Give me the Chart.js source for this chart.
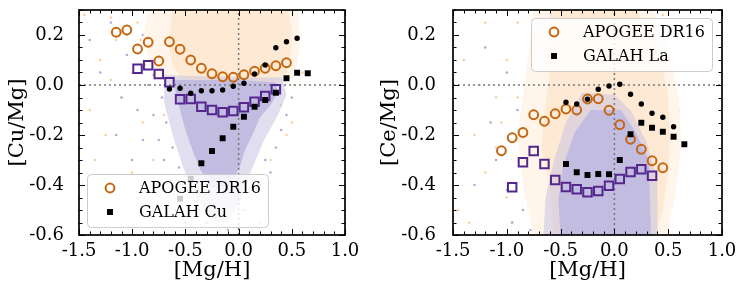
<!DOCTYPE html>
<html>
<head>
<meta charset="utf-8">
<script src="https://cdn.jsdelivr.net/npm/chart.js@4.4.1/dist/chart.umd.min.js"></script>
<style>
	html, body { margin: 0; padding: 0; background: #fff; }
	#wrap { position: relative; width: 747px; height: 295px; }
	.panel { position: absolute; top: 0; height: 295px; }
	#p-left { left: 0; width: 373px; }
	#p-right { left: 373px; width: 374px; }
</style>
</head>
<body>
<div id="wrap">
	<div class="panel" id="p-left"><canvas id="chart-cu"></canvas></div>
	<div class="panel" id="p-right"><canvas id="chart-ce"></canvas></div>
</div>
<script>
// ── Axis ticks ────────────────────────────────────────────────────────────────
const xTicks = [-1.5, -1.0, -0.5, 0.0, 0.5, 1.0];
const yTicks = [-0.6, -0.4, -0.2, 0.0, 0.2];
const refZero = [0];

// ── Left panel: [Cu/Mg] ───────────────────────────────────────────────────────
const cuApoCircX = [-1.15, -1.05, -0.95, -0.85, -0.75, -0.65, -0.55, -0.45, -0.35, -0.25, -0.15, -0.05, 0.05, 0.15, 0.25, 0.35, 0.45];
const cuApoCircY = [0.211, 0.220, 0.144, 0.171, 0.096, 0.173, 0.143, 0.100, 0.067, 0.045, 0.033, 0.031, 0.041, 0.055, 0.067, 0.077, 0.089];
const cuApoSqX = [-0.95, -0.85, -0.75, -0.65, -0.55, -0.45, -0.35, -0.25, -0.15, -0.05, 0.05, 0.15, 0.25, 0.35];
const cuApoSqY = [0.065, 0.079, 0.044, 0.011, -0.057, -0.056, -0.087, -0.100, -0.109, -0.104, -0.089, -0.067, -0.044, -0.017];
const cuGalDotX = [-0.65, -0.55, -0.45, -0.35, -0.25, -0.15, -0.05, 0.05, 0.15, 0.25, 0.35, 0.45, 0.55];
const cuGalDotY = [-0.016, -0.013, -0.033, -0.023, -0.023, -0.020, -0.005, 0.007, 0.044, 0.080, 0.149, 0.173, 0.187];
const cuGalSqX = [-0.55, -0.45, -0.35, -0.25, -0.15, -0.05, 0.05, 0.15, 0.25, 0.35, 0.45, 0.55, 0.65];
const cuGalSqY = [-0.455, -0.375, -0.313, -0.264, -0.213, -0.167, -0.127, -0.087, -0.060, -0.031, 0.027, 0.049, 0.047];

// star clouds: outlines of the dense parts + stray stars
const cuOrangeHalo = [[-0.85, 0.31], [0.56, 0.31], [0.58, 0.15], [0.52, 0.03], [0.3, -0.02], [-0.6, 0.0], [-0.8, 0.05], [-0.9, 0.18]];
const cuOrangeCore = [[-0.62, 0.31], [0.46, 0.31], [0.5, 0.22], [0.49, 0.12], [0.45, 0.05], [0.36, 0.02], [0.2, 0.0], [0.0, -0.01], [-0.3, 0.0], [-0.55, 0.03], [-0.62, 0.08], [-0.66, 0.17]];
const cuPurpleMid = [[-0.7, 0.04], [0.0, 0.03], [0.41, 0.03], [0.45, -0.04], [0.37, -0.12], [0.24, -0.22], [0.12, -0.34], [0.02, -0.46], [-0.1, -0.55], [-0.26, -0.54], [-0.4, -0.45], [-0.52, -0.33], [-0.62, -0.2], [-0.7, -0.07]];
const cuPurpleCore = [[-0.6, 0.02], [0.0, 0.02], [0.35, 0.01], [0.37, -0.03], [0.3, -0.08], [0.2, -0.13], [0.14, -0.19], [0.06, -0.26], [0.01, -0.33], [-0.1, -0.41], [-0.27, -0.41], [-0.38, -0.32], [-0.45, -0.24], [-0.5, -0.18], [-0.55, -0.1], [-0.59, -0.04]];
const cuOrangeStray = [[-1.45, 0.28], [-1.3, 0.1], [-1.2, 0.02], [-1.1, -0.05], [-1.0, 0.05], [-0.95, 0.25], [-0.9, -0.15], [-0.85, 0.15], [-0.8, -0.3], [-0.7, 0.0], [-0.75, 0.25], [-1.25, -0.2], [-1.35, -0.3], [-0.6, -0.45], [-0.4, -0.5], [0.1, -0.45], [0.3, -0.3], [0.5, -0.15], [0.55, 0.25], [0.6, 0.05], [-1.0, -0.35], [-0.95, -0.45], [-1.15, 0.18], [-0.5, -0.55], [0.2, -0.55], [0.45, -0.2], [-1.4, -0.1], [-0.65, 0.2], [-0.82, 0.28], [-1.2, 0.27], [-0.88, 0.08], [-0.78, 0.12], [-0.72, 0.06], [-0.92, 0.18], [-1.05, 0.2], [-0.7, -0.12], [0.52, 0.0], [0.55, 0.15], [0.4, -0.08], [-0.25, -0.52]];
const cuPurpleStray = [[-1.2, 0.25], [-1.05, 0.12], [-0.95, -0.1], [-0.9, -0.22], [-0.8, -0.12], [-1.1, -0.05], [-0.7, -0.3], [-0.65, -0.38], [-0.75, -0.22], [-0.85, 0.0], [-1.3, 0.05], [-1.0, -0.3], [-0.6, -0.5], [-0.5, -0.55], [-0.1, -0.58], [0.05, -0.5], [0.2, -0.4], [0.35, -0.25], [0.45, -0.12], [0.5, -0.05], [-0.9, 0.2], [-0.55, 0.15], [-0.3, 0.22], [0.1, 0.15], [-1.15, -0.2], [-0.8, -0.4], [-0.3, -0.55], [0.3, -0.35], [-1.4, 0.18], [-0.7, 0.1], [-0.72, -0.05], [-0.68, -0.15], [-0.62, -0.25], [-0.56, -0.33], [-0.48, -0.42], [-0.8, 0.04], [0.25, -0.3], [0.4, -0.18], [0.12, -0.42], [-0.42, -0.5]];

// ── Right panel: [Ce/Mg] ──────────────────────────────────────────────────────
const ceApoCircX = [-1.05, -0.95, -0.85, -0.75, -0.65, -0.55, -0.45, -0.35, -0.25, -0.15, -0.05, 0.05, 0.15, 0.25, 0.35, 0.45];
const ceApoCircY = [-0.263, -0.211, -0.190, -0.119, -0.145, -0.115, -0.096, -0.100, -0.056, -0.055, -0.101, -0.159, -0.217, -0.257, -0.303, -0.331];
const ceApoSqX = [-0.95, -0.85, -0.75, -0.65, -0.55, -0.45, -0.35, -0.25, -0.15, -0.05, 0.05, 0.15, 0.25, 0.35];
const ceApoSqY = [-0.409, -0.309, -0.264, -0.316, -0.380, -0.408, -0.417, -0.429, -0.424, -0.403, -0.376, -0.348, -0.337, -0.363];
const ceGalDotX = [-0.45, -0.35, -0.25, -0.15, -0.05, 0.05, 0.15, 0.25, 0.35, 0.45, 0.55];
const ceGalDotY = [-0.069, -0.076, -0.057, -0.017, -0.004, 0.003, -0.037, -0.076, -0.113, -0.129, -0.167];
const ceGalSqX = [-0.45, -0.35, -0.25, -0.15, -0.05, 0.05, 0.15, 0.25, 0.35, 0.45, 0.55, 0.65];
const ceGalSqY = [-0.316, -0.349, -0.360, -0.356, -0.357, -0.300, -0.197, -0.151, -0.171, -0.187, -0.207, -0.237];

const ceOrangeHalo = [[-0.75, 0.31], [0.35, 0.31], [0.5, 0.15], [0.6, -0.05], [0.62, -0.25], [0.56, -0.45], [0.48, -0.61], [-0.75, -0.61], [-0.85, -0.4], [-0.9, -0.2], [-0.82, 0.05]];
const ceOrangeCore = [[-0.6, 0.31], [0.2, 0.31], [0.33, 0.2], [0.44, 0.1], [0.5, -0.05], [0.52, -0.2], [0.5, -0.35], [0.45, -0.5], [0.38, -0.61], [-0.55, -0.61], [-0.6, -0.4], [-0.68, -0.25], [-0.65, -0.1], [-0.6, 0.05]];
const cePurpleMid = [[-0.3, -0.03], [0.0, -0.04], [0.15, -0.1], [0.3, -0.23], [0.4, -0.38], [0.4, -0.61], [-0.66, -0.61], [-0.64, -0.45], [-0.56, -0.3], [-0.45, -0.15]];
const cePurpleCore = [[-0.22, -0.1], [0.06, -0.1], [0.2, -0.19], [0.32, -0.3], [0.33, -0.46], [0.34, -0.61], [-0.5, -0.61], [-0.52, -0.46], [-0.48, -0.33], [-0.37, -0.19]];
const ceOrangeStray = [[-1.4, 0.1], [-1.2, 0.25], [-1.1, -0.05], [-1.3, -0.2], [-1.0, 0.1], [-0.9, -0.05], [-1.2, -0.35], [-1.0, -0.45], [-0.85, -0.3], [-0.8, 0.05], [-0.7, 0.2], [-1.45, -0.5], [-0.95, -0.55], [-1.35, -0.55], [0.5, 0.2], [0.55, -0.3], [0.6, -0.1], [0.5, -0.45], [-0.75, -0.55], [-1.25, 0.0], [-0.9, 0.25], [-1.1, -0.25], [0.45, 0.28], [-0.8, -0.15], [-0.72, -0.05], [-0.78, -0.35], [-0.7, -0.42], [-0.92, -0.22], [0.58, -0.2], [0.4, 0.22], [-0.66, 0.12], [-1.05, -0.15]];
const cePurpleStray = [[-1.2, 0.15], [-1.0, 0.05], [-0.9, -0.1], [-0.8, -0.2], [-1.1, -0.3], [-1.0, -0.42], [-0.75, -0.35], [-0.7, -0.05], [-0.6, -0.2], [-0.95, -0.55], [-0.85, -0.5], [-1.3, -0.4], [-0.5, 0.1], [-0.3, 0.2], [0.1, 0.25], [0.45, -0.25], [0.4, -0.5], [-1.15, -0.15], [-0.65, 0.05], [0.3, 0.1], [-0.72, -0.5], [-0.68, -0.4], [-0.78, -0.58], [-0.58, -0.1], [-0.45, -0.02], [0.2, 0.05], [-0.2, 0.1], [0.45, -0.4]];

// ── Helpers ───────────────────────────────────────────────────────────────────

const ORANGE = '#c4650f';
const PURPLE = '#54278f';
const SERIF = "'DejaVu Serif', serif";

Chart.defaults.font.family = SERIF;
Chart.defaults.color = '#000';

const pts = (xs, ys) => xs.map((x, i) => ({ x, y: ys[i] }));
const pairs = (arr) => arr.map(([x, y]) => ({ x, y }));
const fmtTick = (v) => (Math.abs(v) < 1e-9 ? '0.0' : v.toFixed(1));

function cloudShape(arr, color, order) {
	return {
		data: pairs(arr),
		showLine: true,
		fill: 'shape',
		backgroundColor: color,
		borderWidth: 0,
		pointRadius: 0,
		order,
	};
}

function strayStars(arr, color, order) {
	return {
		data: pairs(arr),
		pointRadius: 1.3,
		pointBorderWidth: 0,
		backgroundColor: color,
		order,
	};
}

function refLines() {
	const dash = { borderColor: '#777777', borderWidth: 1.5, borderDash: [2, 3], pointRadius: 0, showLine: true, fill: false, order: 6 };
	return [
		{ ...dash, data: refZero.flatMap((v) => [{ x: xTicks[0], y: v }, { x: xTicks[xTicks.length - 1], y: v }]) },
		{ ...dash, data: refZero.flatMap((v) => [{ x: v, y: -0.6 }, { x: v, y: 0.3 }]) },
	];
}

// frame, inward major/minor ticks and the in-axes legend (matplotlib look)
const mplAxes = {
	id: 'mplAxes',
	afterDatasetsDraw(chart, args, opts) {
		const lg = opts.legend;
		if (!lg) return;
		const ctx = chart.ctx;
		const items = chart.data.datasets.filter((d) => d.legendText);
		ctx.save();
		ctx.beginPath();
		ctx.roundRect(lg.left + 0.5, lg.top + 0.5, lg.width, lg.height, 4);
		ctx.fillStyle = 'rgba(255,255,255,0.8)';
		ctx.fill();
		ctx.strokeStyle = '#cccccc';
		ctx.lineWidth = 1;
		ctx.stroke();
		items.forEach((d, i) => {
			const y = lg.top + 14 + i * 24;
			const x = lg.left + 23;
			ctx.fillStyle = d.pointBackgroundColor || d.backgroundColor;
			ctx.strokeStyle = d.pointBorderColor || d.borderColor;
			ctx.lineWidth = d.pointBorderWidth;
			Chart.helpers.drawPoint(ctx, {
				pointStyle: d.pointStyle,
				radius: d.pointRadius,
				rotation: 0,
				borderWidth: d.pointBorderWidth,
			}, x, y);
			ctx.fillStyle = '#000';
			ctx.font = '16px ' + SERIF;
			ctx.textBaseline = 'middle';
			ctx.textAlign = 'left';
			ctx.fillText(d.legendText, lg.left + 52, y + 1);
		});
		ctx.restore();
	},
	afterDraw(chart) {
		const { ctx, chartArea: a, scales } = chart;
		const sx = scales.x;
		const sy = scales.y;
		ctx.save();
		ctx.strokeStyle = '#000';
		ctx.lineWidth = 1;
		ctx.beginPath();
		// x: major every 0.5, minor every 0.1
		for (let k = -15; k <= 10; k++) {
			const px = Math.round(sx.getPixelForValue(k / 10)) + 0.5;
			const len = k % 5 === 0 ? 6 : 3.5;
			ctx.moveTo(px, a.bottom); ctx.lineTo(px, a.bottom - len);
			ctx.moveTo(px, a.top); ctx.lineTo(px, a.top + len);
		}
		// y: major every 0.2, minor every 0.05
		for (let k = -12; k <= 6; k++) {
			const py = Math.round(sy.getPixelForValue(k / 20)) + 0.5;
			const len = k % 4 === 0 ? 6 : 3.5;
			ctx.moveTo(a.left, py); ctx.lineTo(a.left + len, py);
			ctx.moveTo(a.right, py); ctx.lineTo(a.right - len, py);
		}
		ctx.stroke();
		ctx.lineWidth = 1.7;
		ctx.strokeRect(a.left, a.top, a.right - a.left, a.bottom - a.top);
		ctx.restore();
	},
};

function makePanel(canvasId, cfg) {
	const datasets = [
		{
			legendText: 'APOGEE DR16',
			data: pts(cfg.apoCircX, cfg.apoCircY),
			pointStyle: 'circle',
			pointRadius: 4.4,
			pointBorderWidth: 2,
			pointBorderColor: ORANGE,
			pointBackgroundColor: 'rgba(0,0,0,0)',
			order: 4,
		},
		{
			data: pts(cfg.apoSqX, cfg.apoSqY),
			pointStyle: 'rect',
			pointRadius: 6,
			pointBorderWidth: 2,
			pointBorderColor: PURPLE,
			pointBackgroundColor: 'rgba(0,0,0,0)',
			order: 3,
		},
		{
			data: pts(cfg.galDotX, cfg.galDotY),
			pointStyle: 'circle',
			pointRadius: 2.7,
			pointBorderWidth: 0,
			pointBackgroundColor: '#000',
			order: 2,
		},
		{
			legendText: cfg.galahLabel,
			data: pts(cfg.galSqX, cfg.galSqY),
			pointStyle: 'rect',
			pointRadius: 4.2,
			pointBorderWidth: 0,
			pointBorderColor: '#000',
			pointBackgroundColor: '#000',
			order: 1,
		},
		...refLines(),
		cloudShape(cfg.purpleCore, '#c2bce0', 7),
		cloudShape(cfg.purpleMid, 'rgba(196,190,225,0.5)', 8),
		cloudShape(cfg.orangeCore, '#feead4', 9),
		cloudShape(cfg.orangeHalo, '#fff5ea', 10),
		strayStars(cfg.purpleStray, '#b3acd6', 11),
		strayStars(cfg.orangeStray, '#fdd09c', 12),
	];

	return new Chart(document.getElementById(canvasId), {
		type: 'scatter',
		data: { datasets },
		plugins: [mplAxes],
		options: {
			responsive: true,
			maintainAspectRatio: false,
			animation: false,
			events: [],
			layout: { padding: { left: 0, right: cfg.padRight, top: 10, bottom: 0 } },
			plugins: {
				legend: { display: false },
				tooltip: { enabled: false },
				mplAxes: { legend: cfg.legendBox },
			},
			scales: {
				x: {
					type: 'linear',
					min: -1.5,
					max: 1.0,
					afterBuildTicks: (s) => { s.ticks = xTicks.map((v) => ({ value: v })); },
					afterFit: (s) => { s.height = 60; s.paddingLeft = 0; s.paddingRight = 0; },
					grid: { display: false },
					border: { display: false },
					ticks: { padding: -2, autoSkip: false, maxRotation: 0, font: { size: 18 }, color: '#000', callback: fmtTick },
					title: { display: true, text: '[Mg/H]', font: { size: 21 }, color: '#000', padding: { top: 0, bottom: 12 } },
				},
				y: {
					type: 'linear',
					min: -0.6,
					max: 0.3,
					afterBuildTicks: (s) => { s.ticks = yTicks.map((v) => ({ value: v })); },
					afterFit: (s) => { s.width = cfg.yWidth; s.paddingTop = 0; s.paddingBottom = 0; },
					grid: { display: false },
					border: { display: false },
					ticks: { padding: cfg.yPad, autoSkip: false, font: { size: 18 }, color: '#000', callback: fmtTick },
					title: { display: true, text: cfg.yTitle, font: { size: 21 }, color: '#000', padding: { top: cfg.yTitlePad, bottom: 0 } },
				},
			},
		},
	});
}

// ── Bootstrap ─────────────────────────────────────────────────────────────────

makePanel('chart-cu', {
	apoCircX: cuApoCircX, apoCircY: cuApoCircY,
	apoSqX: cuApoSqX, apoSqY: cuApoSqY,
	galDotX: cuGalDotX, galDotY: cuGalDotY,
	galSqX: cuGalSqX, galSqY: cuGalSqY,
	orangeHalo: cuOrangeHalo, orangeCore: cuOrangeCore, purpleMid: cuPurpleMid, purpleCore: cuPurpleCore,
	orangeStray: cuOrangeStray, purpleStray: cuPurpleStray,
	galahLabel: 'GALAH Cu',
	yTitle: '[Cu/Mg]',
	yWidth: 79, yPad: 7, yTitlePad: 5, padRight: 28,
	legendBox: { left: 87, top: 174, width: 181, height: 53 },
});

makePanel('chart-ce', {
	apoCircX: ceApoCircX, apoCircY: ceApoCircY,
	apoSqX: ceApoSqX, apoSqY: ceApoSqY,
	galDotX: ceGalDotX, galDotY: ceGalDotY,
	galSqX: ceGalSqX, galSqY: ceGalSqY,
	orangeHalo: ceOrangeHalo, orangeCore: ceOrangeCore, purpleMid: cePurpleMid, purpleCore: cePurpleCore,
	orangeStray: ceOrangeStray, purpleStray: cePurpleStray,
	galahLabel: 'GALAH La',
	yTitle: '[Ce/Mg]',
	yWidth: 80, yPad: 9, yTitlePad: 4, padRight: 25,
	legendBox: { left: 158, top: 18, width: 181, height: 53 },
});
</script>
</body>
</html>
